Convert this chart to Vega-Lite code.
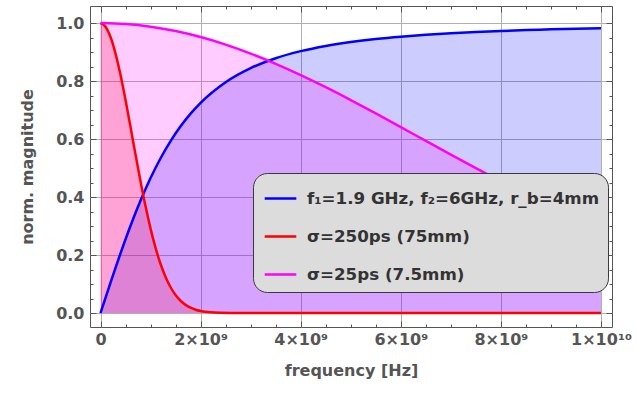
{
  "$schema": "https://vega.github.io/schema/vega-lite/v6.json",
  "autosize": {"type": "none"},
  "padding": {"left": 90, "top": 6, "right": 25, "bottom": 67},
  "width": 522,
  "height": 321,
  "background": "white",
  "data": {"values": [
    {"f": 0, "s": "blue", "v": 0},
    {"f": 0.1, "s": "blue", "v": 0.0526},
    {"f": 0.2, "s": "blue", "v": 0.1047},
    {"f": 0.4, "s": "blue", "v": 0.2060},
    {"f": 0.6, "s": "blue", "v": 0.3011},
    {"f": 0.8, "s": "blue", "v": 0.3881},
    {"f": 1.0, "s": "blue", "v": 0.4658},
    {"f": 1.2, "s": "blue", "v": 0.5340},
    {"f": 1.4, "s": "blue", "v": 0.5932},
    {"f": 1.6, "s": "blue", "v": 0.6441},
    {"f": 1.8, "s": "blue", "v": 0.6878},
    {"f": 2.0, "s": "blue", "v": 0.7250},
    {"f": 2.5, "s": "blue", "v": 0.7962},
    {"f": 3.0, "s": "blue", "v": 0.8448},
    {"f": 3.5, "s": "blue", "v": 0.8789},
    {"f": 4.0, "s": "blue", "v": 0.9033},
    {"f": 4.5, "s": "blue", "v": 0.9213},
    {"f": 5.0, "s": "blue", "v": 0.9348},
    {"f": 5.5, "s": "blue", "v": 0.9452},
    {"f": 6.0, "s": "blue", "v": 0.9533},
    {"f": 6.5, "s": "blue", "v": 0.9598},
    {"f": 7.0, "s": "blue", "v": 0.9651},
    {"f": 7.5, "s": "blue", "v": 0.9694},
    {"f": 8.0, "s": "blue", "v": 0.9729},
    {"f": 8.5, "s": "blue", "v": 0.9759},
    {"f": 9.0, "s": "blue", "v": 0.9784},
    {"f": 9.5, "s": "blue", "v": 0.9806},
    {"f": 10, "s": "blue", "v": 0.9824},
    {"f": 0, "s": "red", "v": 1},
    {"f": 0.1, "s": "red", "v": 0.9877},
    {"f": 0.2, "s": "red", "v": 0.9519},
    {"f": 0.3, "s": "red", "v": 0.8949},
    {"f": 0.4, "s": "red", "v": 0.8209},
    {"f": 0.5, "s": "red", "v": 0.7346},
    {"f": 0.6, "s": "red", "v": 0.6414},
    {"f": 0.7, "s": "red", "v": 0.5463},
    {"f": 0.8, "s": "red", "v": 0.4541},
    {"f": 0.9, "s": "red", "v": 0.3681},
    {"f": 1.0, "s": "red", "v": 0.2912},
    {"f": 1.1, "s": "red", "v": 0.2247},
    {"f": 1.2, "s": "red", "v": 0.1692},
    {"f": 1.3, "s": "red", "v": 0.1243},
    {"f": 1.4, "s": "red", "v": 0.0891},
    {"f": 1.5, "s": "red", "v": 0.0623},
    {"f": 1.6, "s": "red", "v": 0.0425},
    {"f": 1.7, "s": "red", "v": 0.0283},
    {"f": 1.8, "s": "red", "v": 0.0184},
    {"f": 1.9, "s": "red", "v": 0.0116},
    {"f": 2.0, "s": "red", "v": 0.0072},
    {"f": 2.2, "s": "red", "v": 0.0026},
    {"f": 2.4, "s": "red", "v": 0.0008},
    {"f": 2.6, "s": "red", "v": 0.0002},
    {"f": 3.0, "s": "red", "v": 0},
    {"f": 10, "s": "red", "v": 0},
    {"f": 0, "s": "magenta", "v": 1},
    {"f": 0.5, "s": "magenta", "v": 0.9969},
    {"f": 1.0, "s": "magenta", "v": 0.9877},
    {"f": 1.5, "s": "magenta", "v": 0.9726},
    {"f": 2.0, "s": "magenta", "v": 0.9519},
    {"f": 2.5, "s": "magenta", "v": 0.9258},
    {"f": 3.0, "s": "magenta", "v": 0.8949},
    {"f": 3.5, "s": "magenta", "v": 0.8597},
    {"f": 4.0, "s": "magenta", "v": 0.8209},
    {"f": 4.5, "s": "magenta", "v": 0.7790},
    {"f": 5.0, "s": "magenta", "v": 0.7346},
    {"f": 5.5, "s": "magenta", "v": 0.6885},
    {"f": 6.0, "s": "magenta", "v": 0.6414},
    {"f": 6.5, "s": "magenta", "v": 0.5938},
    {"f": 7.0, "s": "magenta", "v": 0.5463},
    {"f": 7.5, "s": "magenta", "v": 0.4996},
    {"f": 8.0, "s": "magenta", "v": 0.4541},
    {"f": 8.5, "s": "magenta", "v": 0.4101},
    {"f": 9.0, "s": "magenta", "v": 0.3681},
    {"f": 9.5, "s": "magenta", "v": 0.3285},
    {"f": 10, "s": "magenta", "v": 0.2912}
  ]},
  "layer": [
    {
      "mark": {"type": "area", "interpolate": "monotone", "fillOpacity": 0.2},
      "encoding": {
        "x": {"field": "f", "type": "quantitative",
          "scale": {"domain": [-0.21, 10.22], "nice": false, "zero": false},
          "axis": {"orient": "bottom", "title": "frequency [Hz]",
            "values": [0,0.5,1,1.5,2,2.5,3,3.5,4,4.5,5,5.5,6,6.5,7,7.5,8,8.5,9,9.5,10],
            "labelExpr": "datum.value % 2 == 0 ? (datum.value == 0 ? '0' : (datum.value == 10 ? '1×10¹⁰' : datum.value + '×10⁹')) : ''",
            "tickSize": {"condition": {"test": "datum.value % 2 == 0", "value": -6}, "value": -3},
            "grid": true,
            "gridOpacity": {"condition": {"test": "datum.value % 2 == 0", "value": 1}, "value": 0},
            "labelPadding": 10, "titlePadding": 12, "labelOverlap": false, "labelFlush": false}},
        "y": {"field": "v", "type": "quantitative", "stack": null,
          "scale": {"domain": [-0.048, 1.059], "nice": false, "zero": false},
          "axis": {"orient": "left", "title": "norm. magnitude",
            "values": [0,0.05,0.1,0.15,0.2,0.25,0.3,0.35,0.4,0.45,0.5,0.55,0.6,0.65,0.7,0.75,0.8,0.85,0.9,0.95,1],
            "labelExpr": "abs(datum.value*5 - round(datum.value*5)) < 0.001 ? format(datum.value, '.1f') : ''",
            "tickSize": {"condition": {"test": "abs(datum.value*5 - round(datum.value*5)) < 0.001", "value": -6}, "value": -3},
            "grid": true,
            "gridOpacity": {"condition": {"test": "abs(datum.value*5 - round(datum.value*5)) < 0.001", "value": 1}, "value": 0},
            "labelPadding": 12, "titlePadding": 20, "labelOverlap": false, "labelFlush": false}},
        "color": {"field": "s", "type": "nominal",
          "scale": {"domain": ["blue", "red", "magenta"], "range": ["#0000ff", "#ff0000", "#ff00ff"]}}
      }
    },
    {
      "mark": {"type": "line", "interpolate": "monotone", "strokeWidth": 2.5},
      "encoding": {
        "x": {"field": "f", "type": "quantitative",
          "axis": {"orient": "top", "title": null, "labels": false, "grid": false,
            "values": [0,0.5,1,1.5,2,2.5,3,3.5,4,4.5,5,5.5,6,6.5,7,7.5,8,8.5,9,9.5,10],
            "tickSize": {"condition": {"test": "datum.value % 2 == 0", "value": -6}, "value": -3}}},
        "y": {"field": "v", "type": "quantitative",
          "axis": {"orient": "right", "title": null, "labels": false, "grid": false,
            "values": [0,0.05,0.1,0.15,0.2,0.25,0.3,0.35,0.4,0.45,0.5,0.55,0.6,0.65,0.7,0.75,0.8,0.85,0.9,0.95,1],
            "tickSize": {"condition": {"test": "abs(datum.value*5 - round(datum.value*5)) < 0.001", "value": -6}, "value": -3}}},
        "color": {"field": "s", "type": "nominal",
          "legend": {
            "orient": "none", "legendX": 163, "legendY": 167, "title": null,
            "labelExpr": "datum.label == 'blue' ? 'f₁=1.9 GHz, f₂=6GHz, r_b=4mm' : (datum.label == 'red' ? 'σ=250ps (75mm)' : 'σ=25ps (7.5mm)')",
            "symbolType": "stroke", "symbolSize": 1000, "symbolStrokeWidth": 2.5, "symbolOpacity": 1,
            "symbolOffset": 2,
            "labelFont": "DejaVu Sans", "labelFontWeight": "bold", "labelFontSize": 16.7, "labelColor": "#333333",
            "labelLimit": 400, "labelOffset": 9,
            "fillColor": "#dcdcdc", "strokeColor": "#3a3a3a", "cornerRadius": 14, "padding": 8, "rowPadding": 11}}
      }
    }
  ],
  "resolve": {"axis": {"x": "independent", "y": "independent"}},
  "config": {
    "view": {"stroke": "#555555", "strokeWidth": 1},
    "axis": {"labelFont": "DejaVu Sans", "labelFontWeight": "bold", "labelFontSize": 16, "labelColor": "#555555",
      "titleFont": "DejaVu Sans", "titleFontWeight": "bold", "titleFontSize": 16, "titleColor": "#555555",
      "tickColor": "#555555", "tickWidth": 1, "gridColor": "#b0b0b0", "gridWidth": 1, "domain": false}
  }
}
